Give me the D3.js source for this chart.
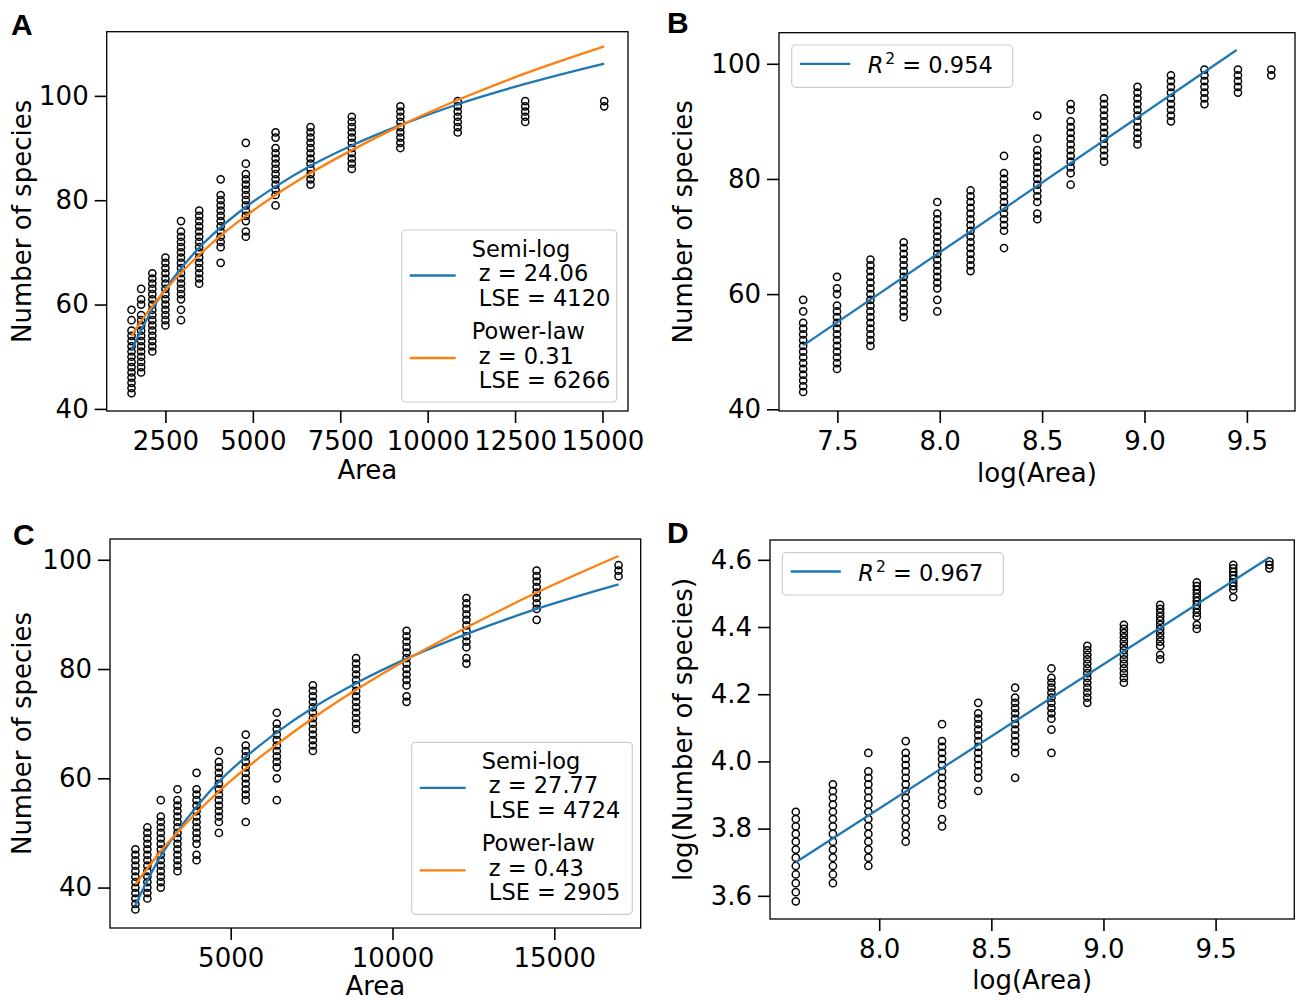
<!DOCTYPE html>
<html>
<head>
<meta charset="utf-8">
<script src="https://cdn.jsdelivr.net/npm/d3@7"></script>
<style>
  body { margin: 0; background: #fff; }
  svg { display: block; font-family: "DejaVu Sans", sans-serif; }
</style>
</head>
<body>
<div id="chart"></div>
<script>
// ---- data, first survey (panels A and B) ----
const areas1 = [1530, 1805, 2125, 2500, 2945, 3465, 4080, 4800, 5650, 6650, 7830, 9220, 10860, 12790, 15050];
const species1 = [
  [59, 57, 55, 54, 53, 52, 51, 50, 49, 48, 47, 46, 45, 44, 43],
  [63, 61, 60, 58, 57, 56, 55, 54, 53, 52, 51, 50, 49, 48, 47],
  [66, 65, 64, 63, 62, 61, 60, 59, 58, 57, 56, 55, 54, 53, 52, 51],
  [69, 68, 67, 66, 65, 64, 63, 62, 61, 60, 59, 58, 57, 56],
  [76, 74, 73, 72, 71, 70, 69, 68, 67, 66, 65, 64, 63, 62, 61, 59, 57],
  [78, 77, 76, 75, 74, 73, 72, 71, 70, 69, 68, 67, 66, 65, 64],
  [84, 81, 80, 79, 78, 77, 76, 75, 74, 73, 72, 71, 68],
  [91, 87, 85, 84, 83, 82, 81, 80, 79, 78, 77, 76, 74, 73],
  [93, 92, 90, 89, 88, 87, 86, 85, 84, 83, 82, 81, 79],
  [94, 93, 92, 91, 90, 89, 88, 87, 86, 85, 84, 83],
  [96, 95, 94, 93, 92, 91, 90, 89, 88, 87, 86],
  [98, 97, 96, 95, 94, 93, 92, 91, 90],
  [99, 98, 97, 96, 95, 94, 93],
  [99, 98, 97, 96, 95],
  [99, 98]
];
const semiLogA = [51.2, 55.1, 59.1, 63.0, 66.9, 70.9, 74.8, 78.7, 82.6, 86.6, 90.5, 94.4, 98.4, 102.3, 106.2];
const powerLawA = [54.0, 56.8, 59.7, 62.8, 66.1, 69.5, 73.2, 77.0, 81.0, 85.2, 89.6, 94.3, 99.2, 104.3, 109.5];
const fitLogAreaB = [7.334, 9.45];
const fitSpeciesB = [51.1, 102.4];

// ---- data, second survey (panels C and D) ----
const areas2 = [2055, 2425, 2840, 3355, 3945, 4635, 5465, 6425, 7540, 8875, 10435, 12285, 14455, 16985];
const species2 = [
  [47, 46, 45, 44, 43, 42, 41, 40, 39, 38, 37, 36],
  [51, 50, 49, 48, 47, 46, 45, 44, 43, 42, 41, 40, 39, 38],
  [56, 53, 52, 51, 50, 49, 48, 47, 46, 45, 44, 43, 42, 41, 40],
  [58, 56, 55, 54, 53, 52, 51, 50, 49, 48, 47, 46, 45, 44, 43],
  [61, 58, 57, 56, 55, 54, 53, 52, 51, 50, 49, 48, 46, 45],
  [65, 63, 62, 61, 60, 59, 58, 57, 56, 55, 54, 53, 52, 50],
  [68, 66, 65, 64, 63, 62, 61, 60, 59, 58, 57, 56, 52],
  [72, 70, 69, 68, 67, 66, 65, 64, 63, 62, 60, 56],
  [77, 76, 75, 74, 73, 72, 71, 70, 69, 68, 67, 66, 65],
  [82, 81, 80, 79, 78, 77, 76, 75, 74, 73, 72, 71, 70, 69],
  [87, 86, 85, 84, 83, 82, 81, 80, 79, 78, 77, 75, 74],
  [93, 92, 91, 90, 89, 88, 87, 86, 85, 84, 82, 81],
  [98, 97, 96, 95, 94, 93, 92, 91, 89],
  [99, 98, 97]
];
const semiLogC = [36.8, 41.3, 45.8, 50.3, 54.8, 59.4, 63.9, 68.4, 72.9, 77.4, 81.9, 86.4, 91.0, 95.5];
const powerLawC = [40.6, 43.5, 46.7, 50.1, 53.7, 57.6, 61.8, 66.2, 71.0, 76.2, 81.7, 87.6, 94.0, 100.7];
const fitLogAreaD = [7.628, 9.74];
const fitLogSpeciesD = [3.700, 4.607];

// ---- ticks and labels ----
const ticksAreaA = [2500, 5000, 7500, 10000, 12500, 15000];
const ticksAreaC = [5000, 10000, 15000];
const ticksLogAreaB = [7.5, 8.0, 8.5, 9.0, 9.5];
const ticksLogAreaD = [8.0, 8.5, 9.0, 9.5];
const ticksSpecies = [40, 60, 80, 100];
const ticksLogSpecies = [3.6, 3.8, 4.0, 4.2, 4.4, 4.6];
const legendA = [["Semi-log", " z = 24.06", " LSE = 4120"], ["Power-law", " z = 0.31", " LSE = 6266"]];
const legendC = [["Semi-log", " z = 27.77", " LSE = 4724"], ["Power-law", " z = 0.43", " LSE = 2905"]];
const r2B = "0.954";
const r2D = "0.967";

const BLUE = "#1f77b4", ORANGE = "#ff7f0e";

const svg = d3.select("#chart").append("svg").attr("width", 1296).attr("height", 1000);

function panel(o) {
  const x = d3.scaleLinear().domain(o.xDomain).range([o.box.left, o.box.right]);
  const y = d3.scaleLinear().domain(o.yDomain).range([o.box.bottom, o.box.top]);
  const g = svg.append("g");

  const gx = g.append("g").attr("transform", `translate(0,${o.box.bottom})`)
    .call(d3.axisBottom(x).tickValues(o.xTicks).tickFormat(o.xFormat).tickSize(12).tickPadding(9).tickSizeOuter(0));
  const gy = g.append("g").attr("transform", `translate(${o.box.left},0)`)
    .call(d3.axisLeft(y).tickValues(o.yTicks).tickFormat(o.yFormat).tickSize(12).tickPadding(6).tickSizeOuter(0));
  [gx, gy].forEach((a) => {
    a.select(".domain").remove();
    a.selectAll("line").attr("stroke", "#000").attr("stroke-width", 1.6);
    a.selectAll("text").attr("fill", "#000").attr("font-size", 26).attr("font-family", "DejaVu Sans");
  });

  g.append("rect").attr("x", o.box.left).attr("y", o.box.top)
    .attr("width", o.box.right - o.box.left).attr("height", o.box.bottom - o.box.top)
    .attr("fill", "none").attr("stroke", "#000").attr("stroke-width", 1.3);

  g.append("text").attr("x", (o.box.left + o.box.right) / 2).attr("y", o.box.bottom + o.xTitleDy)
    .attr("text-anchor", "middle").attr("font-size", 26).text(o.xTitle);
  g.append("text").attr("transform", `translate(${o.yTitleX},${(o.box.top + o.box.bottom) / 2}) rotate(-90)`)
    .attr("text-anchor", "middle").attr("font-size", 26).text(o.yTitle);
  g.append("text").attr("x", o.letter[1]).attr("y", o.letter[2])
    .attr("font-family", "'Liberation Sans', Arial, sans-serif").attr("font-weight", "bold")
    .attr("font-size", 30).text(o.letter[0]);

  const pts = o.xs.flatMap((a, i) => o.ys[i].map((s) => ({ a, s })));
  g.append("g").selectAll("circle").data(pts).join("circle")
    .attr("cx", (d) => x(o.fx(d.a))).attr("cy", (d) => y(o.fy(d.s))).attr("r", 3.6)
    .attr("fill", "none").attr("stroke", "#000").attr("stroke-width", 1.5);
  return { x, y, g };
}

function fitLine(p, xs, ys, color) {
  const line = d3.line().x((d) => p.x(d[0])).y((d) => p.y(d[1])).curve(d3.curveMonotoneX);
  p.g.append("path").datum(xs.map((v, i) => [v, ys[i]]))
    .attr("fill", "none").attr("stroke", color).attr("stroke-width", 2.3).attr("d", line);
}

function legendBox(lx, ly, w, h) {
  svg.append("rect").attr("x", lx).attr("y", ly).attr("width", w).attr("height", h).attr("rx", 4)
    .attr("fill", "#fff").attr("fill-opacity", 0.8).attr("stroke", "#cccccc").attr("stroke-width", 1.2);
}

function legendTwo(lx, ly, w, labels) {
  legendBox(lx, ly, w, 172);
  const handleY = [45.5, 128];
  const base = [[26.5, 51, 75.5], [109, 133.5, 158]];
  [BLUE, ORANGE].forEach((c, k) => {
    svg.append("line").attr("x1", lx + 8).attr("x2", lx + 54).attr("y1", ly + handleY[k]).attr("y2", ly + handleY[k])
      .attr("stroke", c).attr("stroke-width", 2.3);
    labels[k].forEach((t, j) => {
      svg.append("text").attr("x", lx + 70).attr("y", ly + base[k][j]).attr("font-size", 22.5)
        .style("white-space", "pre").text(t);
    });
  });
}

function legendR2(lx, ly, value) {
  legendBox(lx, ly, 221, 42.3);
  svg.append("line").attr("x1", lx + 8.3).attr("x2", lx + 58.5).attr("y1", ly + 18.8).attr("y2", ly + 18.8)
    .attr("stroke", BLUE).attr("stroke-width", 2.3);
  const t = svg.append("text").attr("x", lx + 76).attr("y", ly + 27.8).attr("font-size", 22.5).style("white-space", "pre");
  t.append("tspan").attr("font-style", "italic").text("R");
  t.append("tspan").attr("font-size", 15.5).attr("dy", -9).attr("dx", 2).text("2");
  t.append("tspan").attr("dy", 9).text(" = " + value);
}

const fmtInt = (d) => String(d);
const fmt1 = d3.format(".1f");

// A
const pA = panel({
  box: { left: 106.7, right: 628, top: 31.7, bottom: 411 },
  xDomain: [820, 15730], yDomain: [39.6, 112.3],
  xTicks: ticksAreaA, yTicks: ticksSpecies, xFormat: fmtInt, yFormat: fmtInt,
  xTitle: "Area", xTitleDy: 68, yTitle: "Number of species", yTitleX: 31, letter: ["A", 11, 35],
  xs: areas1, ys: species1, fx: (v) => v, fy: (v) => v
});
fitLine(pA, areas1, semiLogA, BLUE);
fitLine(pA, areas1, powerLawA, ORANGE);
legendTwo(401.7, 230, 215, legendA);

// B
const pB = panel({
  box: { left: 779, right: 1295, top: 32.7, bottom: 411 },
  xDomain: [7.215, 9.735], yDomain: [39.7, 105.4],
  xTicks: ticksLogAreaB, yTicks: ticksSpecies, xFormat: fmt1, yFormat: fmtInt,
  xTitle: "log(Area)", xTitleDy: 71, yTitle: "Number of species", yTitleX: 692, letter: ["B", 667, 33],
  xs: areas1, ys: species1, fx: Math.log, fy: (v) => v
});
fitLine(pB, fitLogAreaB, fitSpeciesB, BLUE);
legendR2(791.7, 45, r2B);

// C
const pC = panel({
  box: { left: 110, right: 640.7, top: 539, bottom: 928 },
  xDomain: [1270, 17670], yDomain: [32.6, 103.8],
  xTicks: ticksAreaC, yTicks: ticksSpecies, xFormat: fmtInt, yFormat: fmtInt,
  xTitle: "Area", xTitleDy: 67, yTitle: "Number of species", yTitleX: 31, letter: ["C", 13, 545],
  xs: areas2, ys: species2, fx: (v) => v, fy: (v) => v
});
fitLine(pC, areas2, semiLogC, BLUE);
fitLine(pC, areas2, powerLawC, ORANGE);
legendTwo(411.7, 742.3, 220.6, legendC);

// D
const pD = panel({
  box: { left: 770, right: 1294.3, top: 540, bottom: 919 },
  xDomain: [7.513, 9.851], yDomain: [3.531, 4.659],
  xTicks: ticksLogAreaD, yTicks: ticksLogSpecies, xFormat: fmt1, yFormat: fmt1,
  xTitle: "log(Area)", xTitleDy: 70, yTitle: "log(Number of species)", yTitleX: 692, letter: ["D", 667, 543],
  xs: areas2, ys: species2, fx: Math.log, fy: Math.log
});
fitLine(pD, fitLogAreaD, fitLogSpeciesD, BLUE);
legendR2(782.3, 552.7, r2D);
</script>
</body>
</html>
